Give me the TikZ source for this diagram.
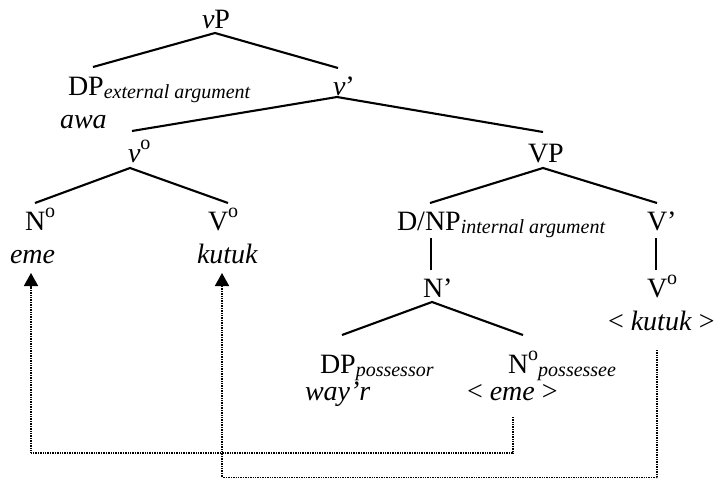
\documentclass[tikz,border=0pt]{standalone}
\usepackage{fontspec}
\setmainfont{Liberation Serif}
\usetikzlibrary{arrows.meta}
\newcommand\subtxt[1]{\raisebox{-3pt}{\fontsize{20}{20}\selectfont\itshape #1}}
\newcommand\supo{\raisebox{13pt}{\fontsize{20}{20}\selectfont o}}
\begin{document}
\begin{tikzpicture}[x=1pt,y=-1pt,
  lbl/.style={anchor=base west,inner sep=0pt,outer sep=0pt,font=\fontsize{28}{30}\selectfont},
  branch/.style={line width=2.1pt},
  trace/.style={line width=1.6pt,dash pattern=on 1pt off 0.7pt,-{Triangle[length=13pt,width=14pt]}}]
\useasboundingbox (0,0) rectangle (722,479);
% labels
\node[lbl] (vP) at (202,28) {\textit{v}P};
\node[lbl] (DPext) at (68,95) {DP\subtxt{external argument}};
\node[lbl] (awa) at (60,128) {\textit{awa}};
\node[lbl] (vbar) at (333,95) {\textit{v}’};
\node[lbl] (vo) at (128,162) {\textit{v}\supo};
\node[lbl] (No) at (25,230) {N\supo};
\node[lbl] (eme) at (10,263) {\textit{eme}};
\node[lbl] (Vo) at (208,230) {V\supo};
\node[lbl] (kutuk) at (197,263) {\textit{kutuk}};
\node[lbl] (VP) at (528,162) {VP};
\node[lbl] (DNP) at (397,230) {D/NP\subtxt{internal argument}};
\node[lbl] (Vbar) at (647,230) {V’};
\node[lbl] (Nbar) at (423,297) {N’};
\node[lbl] (Vo2) at (647,297) {V\supo};
\node[lbl] (kutuk2) at (608,330) {< \textit{kutuk} >};
\node[lbl] (DPposs) at (320,373) {DP\subtxt{possessor}};
\node[lbl] (wayr) at (305,400) {\textit{way’r}};
\node[lbl] (Nposs) at (508,373) {N\supo\subtxt{possessee}};
\node[lbl] (eme2) at (467,400) {< \textit{eme} >};
% branch points
\coordinate (vP-b) at (215,33);
\coordinate (DPext-t) at (93,67);
\coordinate (vbar-t) at (338,68);
\coordinate (vbar-b) at (337,97);
\coordinate (vo-t) at (132,131);
\coordinate (VP-t) at (543,132);
\coordinate (vo-b) at (130,168);
\coordinate (No-t) at (35,203);
\coordinate (Vo-t) at (228,203);
\coordinate (VP-b) at (543,168);
\coordinate (DNP-t) at (430,203);
\coordinate (Vbar-t) at (657,203);
\coordinate (DNP-b) at (431,238);
\coordinate (Nbar-t) at (431,270);
\coordinate (Vbar-b) at (656,238);
\coordinate (Vo2-t) at (656,270);
\coordinate (Nbar-b) at (432,302);
\coordinate (DPposs-t) at (342,335);
\coordinate (Nposs-t) at (523,335);
\coordinate (eme2-b) at (513,417);
\coordinate (eme-t) at (31,273);
\coordinate (kutuk2-b) at (657,350);
\coordinate (kutuk-t) at (222,273);
% branches
\draw[branch] (DPext-t) -- (vP-b) -- (vbar-t);
\draw[branch] (vo-t) -- (vbar-b) -- (VP-t);
\draw[branch] (No-t) -- (vo-b) -- (Vo-t);
\draw[branch] (DNP-t) -- (VP-b) -- (Vbar-t);
\draw[branch] (DNP-b) -- (Nbar-t);
\draw[branch] (Vbar-b) -- (Vo2-t);
\draw[branch] (DPposs-t) -- (Nbar-b) -- (Nposs-t);
% movement traces
\draw[trace] (eme2-b) -- ++(0,36) -| (eme-t);
\draw[trace] (kutuk2-b) -- ++(0,127.5) -| (kutuk-t);
\end{tikzpicture}
\end{document}
